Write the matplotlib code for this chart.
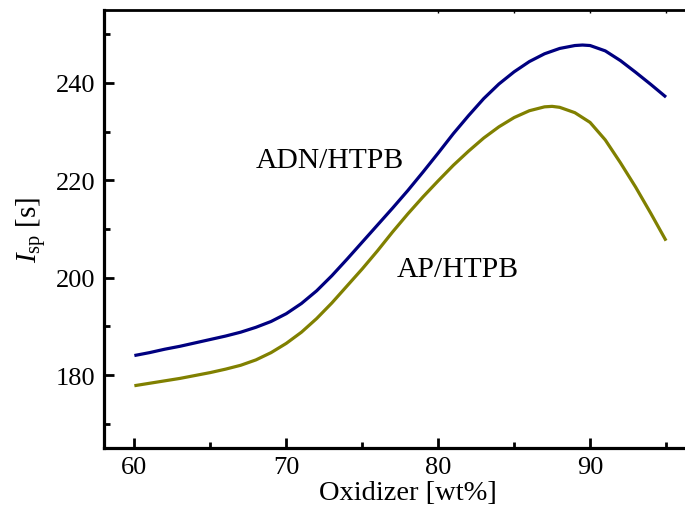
import matplotlib
matplotlib.use("Agg")
import matplotlib.pyplot as plt
from matplotlib.ticker import MultipleLocator

plt.rcParams['font.family'] = ['Liberation Serif', 'DejaVu Serif']
plt.rcParams['mathtext.fontset'] = 'custom'
plt.rcParams['mathtext.rm'] = 'Liberation Serif'
plt.rcParams['mathtext.it'] = 'Liberation Serif:italic'

# ADN/HTPB
adn_x = [60, 61, 62, 63, 64, 65, 66, 67, 68, 69, 70, 71, 72, 73, 74, 75, 76, 77, 78, 79, 80,
         81, 82, 83, 84, 85, 86, 87, 88, 89, 89.5, 90, 91, 92, 93, 94, 95]
adn_y = [184.0, 184.6, 185.3, 185.9, 186.6, 187.3, 188.0, 188.8, 189.8, 191.0, 192.6, 194.7,
         197.3, 200.4, 203.8, 207.3, 210.8, 214.3, 217.9, 221.7, 225.6, 229.6, 233.3, 236.8,
         239.8, 242.3, 244.4, 246.0, 247.1, 247.7, 247.8, 247.7, 246.6, 244.6, 242.2, 239.7, 237.1]
# AP/HTPB
ap_x = [60, 61, 62, 63, 64, 65, 66, 67, 68, 69, 70, 71, 72, 73, 74, 75, 76, 77, 78, 79, 80,
        81, 82, 83, 84, 85, 86, 87, 87.5, 88, 89, 90, 91, 92, 93, 94, 95]
ap_y = [177.8, 178.3, 178.8, 179.3, 179.9, 180.5, 181.2, 182.0, 183.1, 184.6, 186.5, 188.8,
        191.6, 194.8, 198.3, 201.8, 205.5, 209.4, 213.1, 216.6, 219.9, 223.1, 226.0, 228.7,
        231.0, 232.9, 234.3, 235.1, 235.2, 235.0, 233.9, 231.9, 228.3, 223.6, 218.6, 213.2, 207.6]

x_ticks = [60, 70, 80, 90]
y_ticks = [180, 200, 220, 240]

fig = plt.figure(figsize=(6.85, 5.06), dpi=100)
ax = fig.add_axes([104/685, 57/506, 40*15.19/685, 438/506])

ax.plot(adn_x, adn_y, color='#000080', lw=2.3, solid_capstyle='butt', solid_joinstyle='round')
ax.plot(ap_x, ap_y, color='#808000', lw=2.3, solid_capstyle='butt', solid_joinstyle='round')

ax.set_xlim(58, 98)
ax.set_ylim(165, 255)
ax.set_xticks(x_ticks)
ax.set_yticks(y_ticks)
ax.xaxis.set_minor_locator(MultipleLocator(5))
ax.yaxis.set_minor_locator(MultipleLocator(10))

for s in ['left', 'bottom']:
    ax.spines[s].set_linewidth(2.3)
ax.spines['top'].set_visible(False)
ax.spines['right'].set_visible(False)

ax.tick_params(which='major', direction='in', length=7, width=2, labelsize=19, pad=6,
               top=False, right=False)
ax.tick_params(which='minor', direction='in', length=4, width=2, top=False, right=False)

# top frame line with small ticks
ax_top = ax.twiny()
ax_top.set_xlim(ax.get_xlim())
ax_top.set_xticks([80, 85, 90, 95])
ax_top.set_xticklabels([])
ax_top.tick_params(direction='in', length=2, width=1)
ax_top.spines['top'].set_linewidth(2.0)
for s in ['right', 'left', 'bottom']:
    ax_top.spines[s].set_visible(False)
ax_top.yaxis.set_visible(False)
ax_top.patch.set_visible(False)

ax.set_xlabel('Oxidizer [wt%]', fontsize=20.5, labelpad=1)
ax.set_ylabel(r'$I_{\mathrm{sp}}$ [s]', fontsize=21, labelpad=6)

ax.text(68.0, 222.7, 'ADN/HTPB', fontsize=21.3)
ax.text(77.3, 200.4, 'AP/HTPB', fontsize=21.3)

fig.savefig('out.png', dpi=100)
